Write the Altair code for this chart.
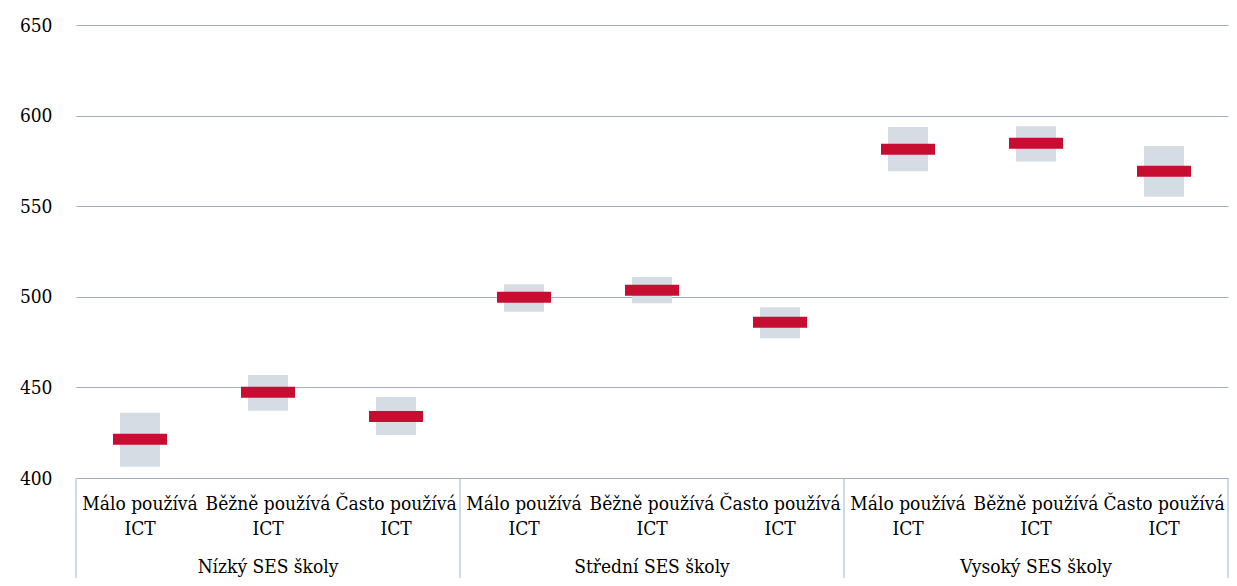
import altair as alt
import pandas as pd

groups = ["Nízký SES školy", "Střední SES školy", "Vysoký SES školy"]
categories = ["Málo používá\nICT", "Běžně používá\nICT", "Často používá\nICT"]
means = [421.4, 447.3, 434.0, 499.7, 503.6, 485.9, 581.4, 584.7, 569.3]
lows = [406.2, 437.1, 423.7, 491.8, 496.4, 477.1, 569.3, 574.6, 555.2]
highs = [436.0, 456.8, 444.7, 506.9, 510.9, 494.2, 593.7, 594.1, 583.2]
y_ticks = [400, 450, 500, 550, 600, 650]

rows = []
for gi, g in enumerate(groups):
    for ci, c in enumerate(categories):
        k = gi * len(categories) + ci
        rows.append({"key": f"{g}|{c}", "group": g, "cat": c,
                     "mean": means[k], "low": lows[k], "high": highs[k]})
df = pd.DataFrame(rows)
order = list(df["key"])

grp_df = pd.DataFrame({"group": groups,
                       "mid": [f"{g}|{categories[1]}" for g in groups]})
sep_df = pd.DataFrame({"key": [f"{g}|{categories[0]}" for g in groups]})
end_df = pd.DataFrame({"key": [f"{groups[-1]}|{categories[-1]}"]})

FONT = "DejaVu Serif Condensed"
xscale = alt.Scale(domain=order, paddingInner=0, paddingOuter=0)
yscale = alt.Scale(domain=[400, 650], nice=False, zero=False)

base = alt.Chart(df)

boxes = base.mark_bar(size=40, color="#d6dce4").encode(
    x=alt.X("key:N", scale=xscale, axis=None, sort=order),
    y=alt.Y("low:Q", scale=yscale, title=None,
            axis=alt.Axis(values=y_ticks, grid=True, gridColor="#a2adc4",
                          gridWidth=1, domain=False, ticks=False, tickSize=0,
                          labelPadding=24, labelFontSize=19, labelFont=FONT,
                          labelColor="#000000")),
    y2="high:Q",
)

mean_ticks = base.mark_tick(size=54, thickness=11, color="#c70e32", opacity=1).encode(
    x=alt.X("key:N", scale=xscale, sort=order),
    y=alt.Y("mean:Q", scale=yscale),
)

cat_labels = base.mark_text(font=FONT, fontSize=19, baseline="top", align="center",
                            lineBreak="\n", lineHeight=25, color="#000000").encode(
    x=alt.X("key:N", scale=xscale, sort=order),
    y=alt.value(470),
    text="cat:N",
)

grp_labels = alt.Chart(grp_df).mark_text(font=FONT, fontSize=19, baseline="middle",
                                         align="center", color="#000000").encode(
    x=alt.X("mid:N", scale=xscale, sort=order),
    y=alt.value(542),
    text="group:N",
)

seps = alt.Chart(sep_df).mark_rule(color="#a9b5c9", strokeWidth=1).encode(
    x=alt.X("key:N", scale=xscale, sort=order, bandPosition=0),
    y=alt.value(453),
    y2=alt.value(570),
)

end_sep = alt.Chart(end_df).mark_rule(color="#a9b5c9", strokeWidth=1).encode(
    x=alt.X("key:N", scale=xscale, sort=order, bandPosition=1),
    y=alt.value(453),
    y2=alt.value(570),
)

chart = alt.layer(boxes, mean_ticks, seps, end_sep, cat_labels, grp_labels).properties(
    width=1152,
    height=453,
    autosize=alt.AutoSizeParams(type="none"),
    padding={"left": 68, "top": 17, "right": 1, "bottom": 100},
).configure_view(stroke=None)

chart.save("out.html", embed_options={"renderer": "svg", "actions": False})
